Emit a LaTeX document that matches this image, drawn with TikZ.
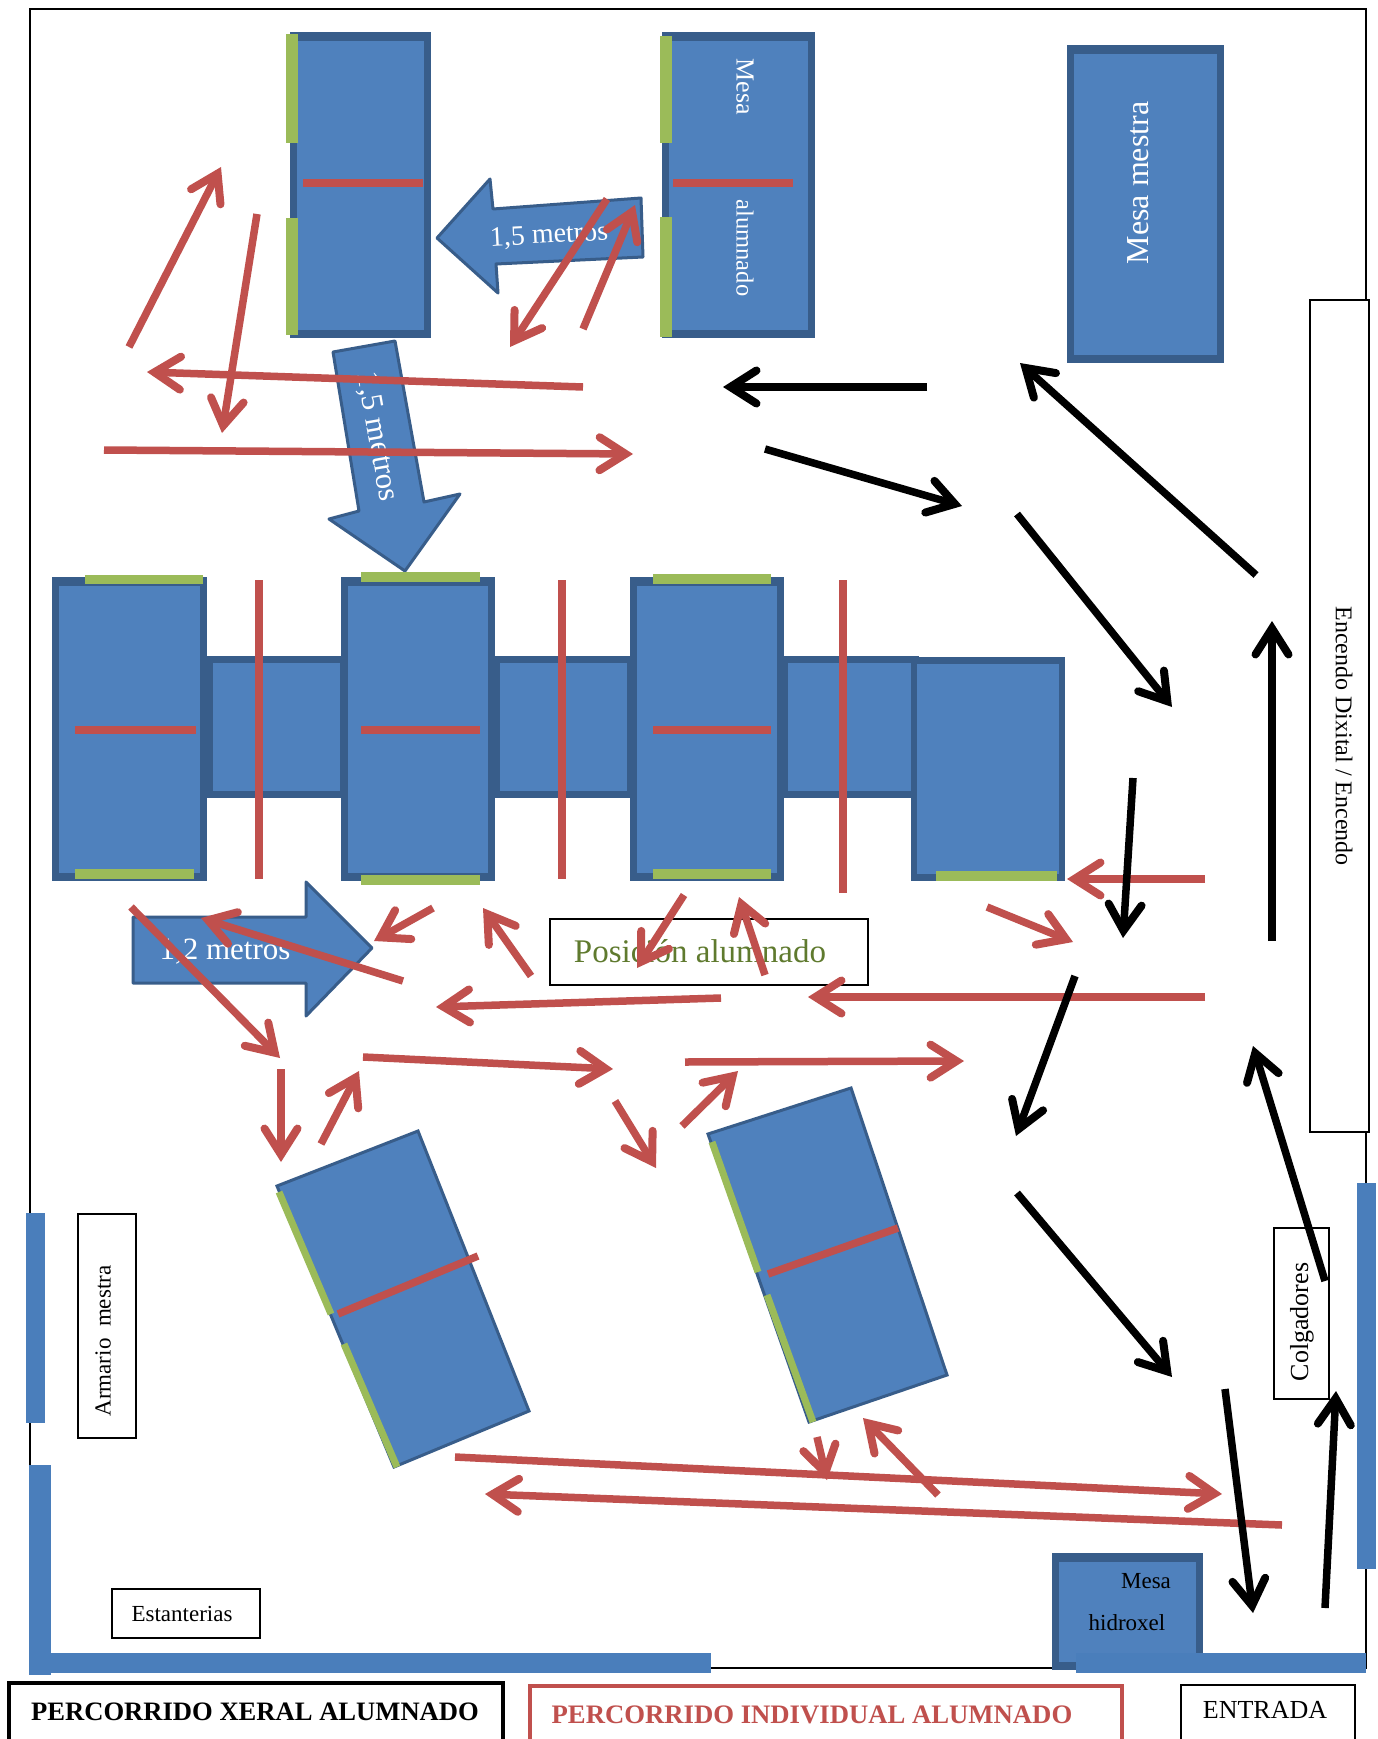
\documentclass[tikz,border=0pt]{standalone}
\usepackage{fontspec}
\setmainfont{Liberation Serif}
\usetikzlibrary{arrows.meta}
\definecolor{bluefill}{HTML}{4F81BD}
\definecolor{blueline}{HTML}{385D8A}
\definecolor{wallblue}{HTML}{4A7EBB}
\definecolor{greenbar}{HTML}{9BBB59}
\definecolor{redline}{HTML}{C0504D}
\definecolor{olivetext}{HTML}{5F7A2E}
\tikzset{
  x=1pt,y=-1pt,
  flowarrow/.style={fill=bluefill,draw=blueline,line width=3pt,line join=round},
  wall/.style={fill=wallblue,draw=none},
  greenbarline/.style={fill=greenbar,draw=none},
  tablered/.style={draw=redline,line width=7.5pt},
  redpath/.style={draw=redline,line width=7.5pt,-{Straight Barb[length=26pt,width=33pt,line width=8pt,line cap=round,line join=miter]}},
  blackpath/.style={draw=black,line width=7.5pt,-{Straight Barb[length=26pt,width=33pt,line width=8pt,line cap=round,line join=miter]}},
  labelbox/.style={draw=black,line width=2pt,fill=white},
  whitetext/.style={text=white,inner sep=0pt},
  blacktext/.style={text=black,inner sep=0pt},
}
\newcommand{\fs}[1]{\fontsize{#1}{#1}\selectfont}
% table: dark outer rectangle, lighter inner face
\newcommand{\tablerect}[4]{%
  \fill[blueline] (#1,#2) rectangle (#3,#4);
  \fill[bluefill] ({#1+7},{#2+9}) rectangle ({#3-7},{#4-8});
}
\newcommand{\tablethin}[4]{%
  \fill[blueline] (#1,#2) rectangle (#3,#4);
  \fill[bluefill] ({#1+6},{#2+7}) rectangle ({#3-6},{#4-7});
}
\begin{document}
\begin{tikzpicture}
\useasboundingbox (0,0) rectangle (1377,1739);
\clip (0,0) rectangle (1377,1739);
\fill[white] (0,0) rectangle (1377,1739);
% room outline
\draw[black,line width=2.5pt] (30,1668) -- (30,9) -- (1366,9) -- (1366,1668) -- cycle;
% walls
\fill[wall] (26,1213) rectangle (45,1423);
\fill[wall] (29,1465) rectangle (51,1675);
\fill[wall] (29,1653) rectangle (711,1673);
\fill[wall] (1357,1183) rectangle (1376,1569);
% upper tables
\tablerect{290}{32}{431}{338}
\fill[greenbarline] (286,34) rectangle (298,143);
\fill[greenbarline] (286,218) rectangle (298,335);
\draw[tablered] (303,183) -- (423,183);
\tablerect{662}{32}{815}{338}
\fill[greenbarline] (660,36) rectangle (672,143);
\fill[greenbarline] (660,217) rectangle (672,337);
\draw[tablered] (673,183) -- (793,183);
\node[whitetext,rotate=-90,font=\fs{26}] (mesa) at (745,87) {Mesa};
\node[whitetext,rotate=-90,font=\fs{24.5}] (alumnado) at (745,248) {alumnado};
\tablerect{1067}{45}{1224}{363}
\node[whitetext,rotate=90,font=\fs{32}] (mestra) at (1138,183) {Mesa mestra};
% wide arrows
\draw[flowarrow] (437,238) -- (490,179) -- (493,209) -- (641,198) -- (643,257) -- (496,264) -- (498,293) -- cycle;
\node[whitetext,rotate=3,font=\fs{28}] (dist1) at (549,236) {1,5 metros};
\draw[flowarrow] (333,352) -- (395,341) -- (424,502) -- (460,494) -- (405,571) -- (329,519) -- (359,511) -- cycle;
\node[whitetext,rotate=-80,font=\fs{31}] (dist2) at (377,437) {1,5 metros};
% row of tables
\tablethin{207}{656}{346}{798}
\tablethin{494}{656}{633}{798}
\tablethin{782}{656}{919}{798}
\tablerect{52}{577}{207}{881}
\tablerect{341}{577}{495}{881}
\tablerect{630}{577}{784}{881}
\tablethin{911}{657}{1065}{881}
\fill[greenbarline] (85,575) rectangle (203,584);
\fill[greenbarline] (75,869) rectangle (194,879);
\fill[greenbarline] (361,572) rectangle (480,582);
\fill[greenbarline] (361,875) rectangle (480,885);
\fill[greenbarline] (653,574) rectangle (771,584);
\fill[greenbarline] (653,869) rectangle (771,879);
\fill[greenbarline] (936,871) rectangle (1057,881);
\draw[tablered] (75,730) -- (196,730);
\draw[tablered] (361,730) -- (480,730);
\draw[tablered] (653,730) -- (771,730);
\draw[tablered] (259,580) -- (259,879);
\draw[tablered] (562,580) -- (562,879);
\draw[tablered] (843,580) -- (843,893);
% 1,2 metros arrow
\draw[flowarrow] (133,917) -- (306,917) -- (306,882) -- (372,948) -- (306,1016) -- (306,983) -- (133,983) -- cycle;
\node[whitetext,font=\fs{31}] (dist3) at (225,952) {1,2 metros};
% Posicion
\node[labelbox,minimum width=318pt,minimum height=66pt,inner sep=0pt] (posicion) at (709,952) {};
\node[inner sep=0pt,text=olivetext,font=\fs{33}] (posiciontext) at (700,951) {Posición alumnado};
% rotated tables
\draw[fill=bluefill,draw=blueline,line width=3pt] (277,1186) -- (418,1131) -- (529,1411) -- (394,1467) -- cycle;
\draw[greenbar,line width=7pt] (279,1192) -- (331,1314);
\draw[greenbar,line width=7pt] (344,1344) -- (397,1467);
\draw[tablered] (338,1314) -- (478,1256);
\draw[fill=bluefill,draw=blueline,line width=3pt] (708,1134) -- (851,1088) -- (947,1375) -- (809,1422) -- cycle;
\draw[greenbar,line width=7pt] (712,1142) -- (758,1272);
\draw[greenbar,line width=7pt] (767,1295) -- (813,1422);
\draw[tablered] (768,1274) -- (898,1228);
% labelled boxes
\node[labelbox,minimum width=59pt,minimum height=832pt,inner sep=0pt] (encendo) at (1339,716) {};
\node[blacktext,rotate=-90,font=\fs{24}] (encendotext) at (1344,736) {Encendo Dixital / Encendo};
\node[labelbox,minimum width=55pt,minimum height=171pt,inner sep=0pt] (colgadores) at (1301,1313) {};
\node[blacktext,rotate=90,font=\fs{26}] (colgtext) at (1302,1322) {Colgadores};
\node[labelbox,minimum width=58pt,minimum height=224pt,inner sep=0pt] (armario) at (107,1326) {};
\node[blacktext,rotate=90,font=\fs{23}] (armtext) at (103,1341) {Armario\ \ mestra};
\node[labelbox,minimum width=148pt,minimum height=49pt,inner sep=0pt] (estanterias) at (186,1613) {};
\node[blacktext,font=\fs{23}] (estantext) at (182,1614) {Estanterias};
% mesa hidroxel
\tablerect{1052}{1553}{1203}{1670}
\node[blacktext,font=\fs{23}] (mesah) at (1146,1581) {Mesa};
\node[blacktext,font=\fs{23}] (hidroxel) at (1127,1623) {hidroxel};
\fill[wall] (1076,1653) rectangle (1366,1673);
% legend
\node[draw=black,line width=4.5pt,fill=white,minimum width=494pt,minimum height=100pt,inner sep=0pt] (leg1) at (256,1733) {};
\node[blacktext,font=\fs{26.6}\bfseries] (leg1t) at (255,1712) {PERCORRIDO XERAL ALUMNADO};
\node[draw=redline,line width=4.5pt,fill=white,minimum width=592pt,minimum height=100pt,inner sep=0pt] (leg2) at (826,1736) {};
\node[text=redline,inner sep=0pt,font=\fs{26.7}\bfseries] (leg2t) at (812,1715) {PERCORRIDO INDIVIDUAL ALUMNADO};
\node[draw=black,line width=2.5pt,fill=white,minimum width=174pt,minimum height=100pt,inner sep=0pt] (leg3) at (1268,1735) {};
\node[blacktext,font=\fs{26}] (leg3t) at (1265,1710) {ENTRADA};
% individual route
\draw[redpath] (129,347) -- (221,167);
\draw[redpath] (257,214) -- (222,433);
\draw[redpath] (583,387) -- (147,372);
\draw[redpath] (104,450) -- (633,454);
\draw[redpath] (607,199) -- (510,347);
\draw[redpath] (583,329) -- (635,205);
\draw[redpath] (131,907) -- (280,1058);
\draw[redpath] (403,981) -- (201,918);
\draw[redpath] (433,908) -- (374,941);
\draw[redpath] (531,976) -- (483,908);
\draw[redpath] (684,895) -- (637,968);
\draw[redpath] (765,975) -- (739,897);
\draw[redpath] (721,998) -- (436,1007);
\draw[redpath] (1205,997) -- (808,997);
\draw[redpath] (363,1057) -- (613,1069);
\draw[redpath] (281,1069) -- (281,1162);
\draw[redpath] (321,1144) -- (359,1071);
\draw[redpath] (615,1101) -- (656,1168);
\draw[redpath] (682,1126) -- (738,1071);
\draw[redpath] (685,1062) -- (964,1061);
\draw[redpath] (1205,879) -- (1067,879);
\draw[redpath] (987,907) -- (1073,942);
\draw[redpath] (455,1457) -- (1222,1494);
\draw[redpath] (1282,1525) -- (485,1494);
\draw[redpath] (817,1437) -- (827,1480);
\draw[redpath] (938,1495) -- (863,1418);
% general route
\draw[blackpath] (927,387) -- (723,387);
\draw[blackpath] (765,449) -- (962,506);
\draw[blackpath] (1017,514) -- (1172,707);
\draw[blackpath] (1133,778) -- (1123,938);
\draw[blackpath] (1075,976) -- (1016,1136);
\draw[blackpath] (1017,1193) -- (1172,1377);
\draw[blackpath] (1225,1389) -- (1253,1613);
\draw[blackpath] (1325,1608) -- (1336,1391);
\draw[blackpath] (1325,1281) -- (1253,1046);
\draw[blackpath] (1272,941) -- (1272,621);
\draw[blackpath] (1256,575) -- (1020,363);
\end{tikzpicture}
\end{document}
